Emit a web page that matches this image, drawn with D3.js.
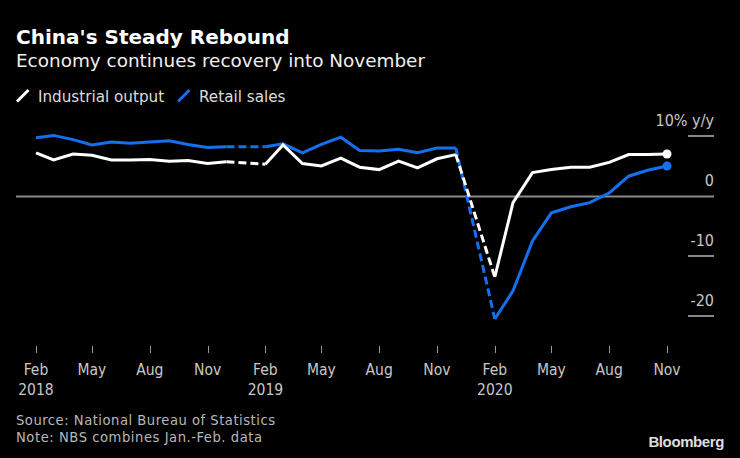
<!DOCTYPE html>
<html>
<head>
<meta charset="utf-8">
<script src="https://cdn.jsdelivr.net/npm/d3@7"></script>
<style>
  html, body { margin: 0; padding: 0; background: #000; }
  svg { display: block; }
  text { font-family: "DejaVu Sans", sans-serif; }
  .cond { font-family: "DejaVu Sans Condensed", "DejaVu Sans", sans-serif; font-stretch: condensed; }
</style>
</head>
<body>
<svg id="chart" width="740" height="458"></svg>
<script>
// ---- Data ----
const months = [
  "2018-02","2018-03","2018-04","2018-05","2018-06","2018-07","2018-08","2018-09","2018-10","2018-11","2018-12",
  "2019-01","2019-02","2019-03","2019-04","2019-05","2019-06","2019-07","2019-08","2019-09","2019-10","2019-11","2019-12",
  "2020-01","2020-02","2020-03","2020-04","2020-05","2020-06","2020-07","2020-08","2020-09","2020-10","2020-11"
];
// Jan values are combined with Feb by NBS (null = no data)
const industrialOutput = [7.2, 6.0, 7.0, 6.8, 6.0, 6.0, 6.1, 5.8, 5.9, 5.4, 5.7,
  null, 5.3, 8.5, 5.4, 5.0, 6.3, 4.8, 4.4, 5.8, 4.7, 6.2, 6.9,
  null, -13.5, -1.1, 3.9, 4.4, 4.8, 4.8, 5.6, 6.9, 6.9, 7.0];
const retailSales = [9.7, 10.1, 9.4, 8.5, 9.0, 8.8, 9.0, 9.2, 8.6, 8.1, 8.2,
  null, 8.2, 8.7, 7.2, 8.6, 9.8, 7.6, 7.5, 7.8, 7.2, 8.0, 8.0,
  null, -20.5, -15.8, -7.5, -2.8, -1.8, -1.1, 0.5, 3.3, 4.3, 5.0];
const yTicks = [10, 0, -10, -20];
const yTickLabels = ["10% y/y", "0", "-10", "-20"];
const xTickMonths = ["2018-02","2018-05","2018-08","2018-11","2019-02","2019-05","2019-08","2019-11","2020-02","2020-05","2020-08","2020-11"];
const seriesNames = ["Industrial output", "Retail sales"];
const seriesColors = ["#ffffff", "#1470f0"];

// ---- Setup ----
const parse = d3.timeParse("%Y-%m");
const dates = months.map(parse);
const svg = d3.select("#chart");
svg.append("rect").attr("width", 740).attr("height", 458).attr("fill", "#000");

const x = d3.scaleTime().domain([dates[0], dates[dates.length - 1]]).range([36, 667]);
const y = d3.scaleLinear().domain([-20, 10]).range([316, 136]);

// ---- Titles ----
svg.append("text").attr("x", 16).attr("y", 43.5)
  .attr("fill", "#fff").attr("font-size", 20).attr("font-weight", "bold")
  .text("China's Steady Rebound");
svg.append("text").attr("x", 16).attr("y", 66.5)
  .attr("fill", "#f0f0f0").attr("font-size", 18.4)
  .text("Economy continues recovery into November");

// ---- Legend ----
const legendX = [17, 178];
seriesNames.forEach((name, i) => {
  const lx = legendX[i];
  svg.append("line").attr("x1", lx).attr("y1", 101.5).attr("x2", lx + 11.5).attr("y2", 90)
    .attr("stroke", seriesColors[i]).attr("stroke-width", 3);
  svg.append("text").attr("x", lx + 21).attr("y", 102)
    .attr("fill", "#dcdcdc").attr("font-size", 15.2).text(name);
});

// ---- Y axis (right) ----
yTicks.forEach((v, i) => {
  if (v === 0) {
    svg.append("line").attr("x1", 16).attr("x2", 714).attr("y1", y(0) + 0.5).attr("y2", y(0) + 0.5)
      .attr("stroke", "#8a8a8a").attr("stroke-width", 2);
  } else {
    svg.append("line").attr("x1", 688).attr("x2", 714).attr("y1", y(v)).attr("y2", y(v))
      .attr("stroke", "#d0d0d0").attr("stroke-width", 1.3);
  }
  svg.append("text").attr("x", 714).attr("y", y(v) - 10.3).attr("class", "cond")
    .attr("text-anchor", "end").attr("fill", "#c8c8c8").attr("font-size", 16)
    .text(yTickLabels[i]);
});

// ---- X axis ----
xTickMonths.forEach(m => {
  const d = parse(m);
  const xx = Math.round(x(d)) + 0.5;
  svg.append("line").attr("x1", xx).attr("x2", xx).attr("y1", 346).attr("y2", 353)
    .attr("stroke", "#9a9a9a").attr("stroke-width", 1);
  svg.append("text").attr("x", x(d)).attr("y", 375).attr("text-anchor", "middle").attr("class", "cond")
    .attr("fill", "#c8c8c8").attr("font-size", 15.5).text(d3.timeFormat("%b")(d));
  if (d.getMonth() === 1) {
    svg.append("text").attr("x", x(d)).attr("y", 395).attr("text-anchor", "middle").attr("class", "cond")
      .attr("fill", "#c8c8c8").attr("font-size", 15.5).text(d3.timeFormat("%Y")(d));
  }
});

// ---- Lines ----
function drawSeries(values, color) {
  const pts = dates.map((d, i) => ({ d, v: values[i] }));
  const line = d3.line().defined(p => p.v !== null).x(p => x(p.d)).y(p => y(p.v));
  // dashed bridges across missing January
  pts.forEach((p, i) => {
    if (p.v === null && i > 0 && i < pts.length - 1) {
      svg.append("path").datum([pts[i - 1], pts[i + 1]])
        .attr("d", d3.line().x(q => x(q.d)).y(q => y(q.v)))
        .attr("fill", "none").attr("stroke", color).attr("stroke-width", 3)
        .attr("stroke-dasharray", "8,4");
    }
  });
  svg.append("path").datum(pts).attr("d", line)
    .attr("fill", "none").attr("stroke", color).attr("stroke-width", 3)
    .attr("stroke-linejoin", "miter");
  const last = pts[pts.length - 1];
  svg.append("circle").attr("cx", x(last.d)).attr("cy", y(last.v)).attr("r", 4.5)
    .attr("fill", color);
}
drawSeries(retailSales, seriesColors[1]);
drawSeries(industrialOutput, seriesColors[0]);

// ---- Footer ----
svg.append("text").attr("x", 16).attr("y", 424.5).attr("fill", "#b8b8b8").attr("font-size", 14.6).attr("class", "cond")
  .attr("textLength", 259).attr("lengthAdjust", "spacing")
  .text("Source: National Bureau of Statistics");
svg.append("text").attr("x", 16).attr("y", 441.5).attr("fill", "#b8b8b8").attr("font-size", 14.6).attr("class", "cond")
  .attr("textLength", 246).attr("lengthAdjust", "spacing")
  .text("Note: NBS combines Jan.-Feb. data");
svg.append("text").attr("x", 724).attr("y", 447).attr("text-anchor", "end")
  .attr("fill", "#dedede").attr("font-size", 15).attr("font-weight", "bold")
  .style("font-family", "'Liberation Sans', Arial, sans-serif").attr("letter-spacing", -0.4)
  .text("Bloomberg");
</script>
</body>
</html>
